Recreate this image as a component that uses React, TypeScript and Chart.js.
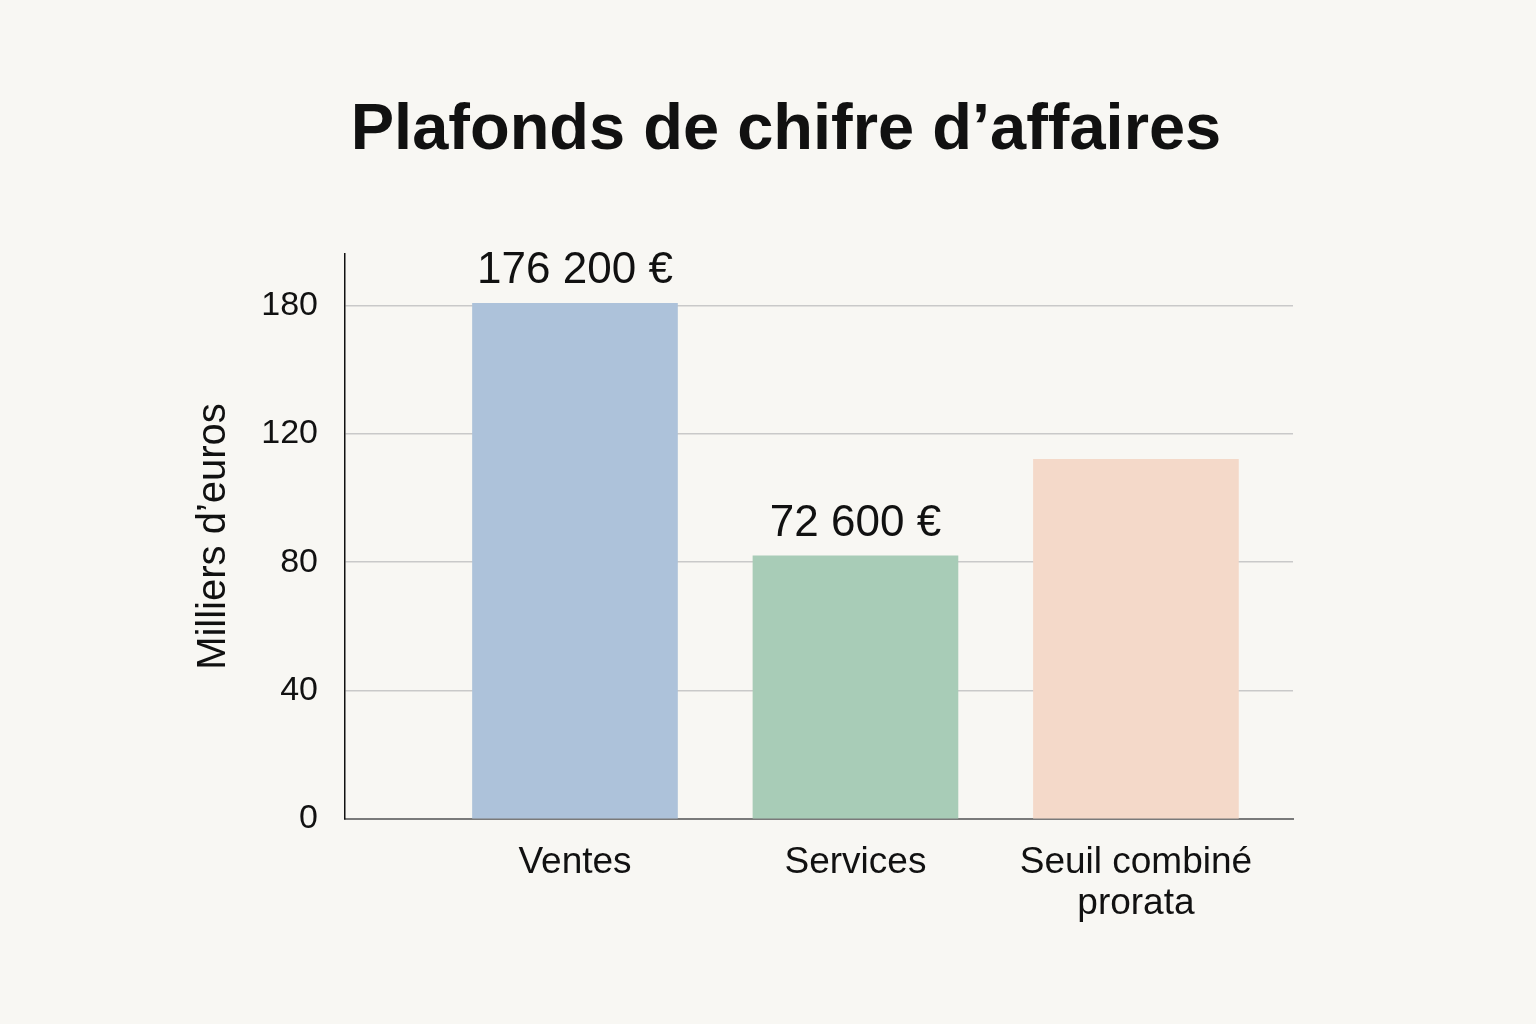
import React, { useEffect, useRef } from "react";
import { Chart, registerables, LinearScale } from "chart.js";

Chart.register(...registerables);

// ---- Data ----
const titleText = "Plafonds de chifre d’affaires";
const yAxisTitle = "Milliers d’euros";
const categories: (string | string[])[] = ["Ventes", "Services", ["Seuil combiné", "prorata"]];
const barValues = [181, 82, 112]; // heights read against the labelled y axis
const valueLabels = ["176 200 €", "72 600 €", ""];
const yTickValues = [0, 40, 80, 120, 180];
const yTickLabels = ["0", "40", "80", "120", "180"];
const yMax = 204;

const barColors = ["#adc2da", "#a8ccb7", "#f4d9c9"];
const FONT = "'Liberation Sans', Arial, Helvetica, sans-serif";

// A linear scale whose labelled ticks are evenly spaced (piecewise linear between ticks)
class SegmentedScale extends LinearScale {
  static id = "segmented";
  static defaults = LinearScale.defaults;

  segPos(value: number): number {
    const b = yTickValues;
    if (value <= b[0]) return (value - b[0]) / (b[1] - b[0]);
    for (let k = 0; k < b.length - 1; k++) {
      if (value <= b[k + 1]) return k + (value - b[k]) / (b[k + 1] - b[k]);
    }
    const n = b.length - 1;
    return n - 1 + (value - b[n - 1]) / (b[n] - b[n - 1]);
  }
  getPixelForValue(value: number): number {
    if (value === null || value === undefined || isNaN(value)) return NaN;
    const total = this.segPos(yMax);
    return this.getPixelForDecimal(this.segPos(value) / total);
  }
  getValueForPixel(pixel: number): number {
    const total = this.segPos(yMax);
    const s = this.getDecimalForPixel(pixel) * total;
    const b = yTickValues;
    const n = b.length - 1;
    const k = Math.max(0, Math.min(n - 1, Math.floor(s)));
    return b[k] + (s - k) * (b[k + 1] - b[k]);
  }
}
Chart.register(SegmentedScale as any);

const valueLabelPlugin = {
  id: "valueLabels",
  afterDatasetsDraw(chart: any) {
    const meta = chart.getDatasetMeta(0);
    const ctx = chart.ctx;
    ctx.save();
    ctx.font = `44px ${FONT}`;
    ctx.fillStyle = "#111111";
    ctx.textAlign = "center";
    ctx.textBaseline = "alphabetic";
    meta.data.forEach((el: any, i: number) => {
      const t = valueLabels[i];
      if (!t) return;
      ctx.fillText(t, el.x, el.y - 20);
    });
    ctx.restore();
  },
};

export default function App() {
  const canvasRef = useRef<HTMLCanvasElement | null>(null);

  useEffect(() => {
    document.body.style.margin = "0";
    const canvas = canvasRef.current;
    if (!canvas) return;
    const chart = new Chart(canvas, {
      type: "bar",
      data: {
        datasets: [
          {
            data: barValues.map((v, i) => ({ x: i, y: v })) as any,
            backgroundColor: barColors,
            borderWidth: 0,
            barThickness: 205,
            yAxisID: "y",
            xAxisID: "x",
          },
        ],
      },
      options: {
        responsive: false,
        animation: false,
        layout: { padding: { left: 36, right: 0, top: 0, bottom: 0 } },
        plugins: {
          legend: { display: false },
          tooltip: { enabled: false },
          title: {
            display: true,
            text: titleText,
            color: "#111111",
            font: { family: FONT, size: 65, weight: "bold" },
            padding: { top: 92, bottom: 84 },
          },
        },
        scales: {
          x: {
            type: "linear",
            min: -0.82,
            max: 2.56,
            offset: false,
            grid: { display: false, drawTicks: false },
            border: { display: true, color: "#7a7a7a", width: 2 },
            afterBuildTicks: (scale: any) => {
              scale.ticks = categories.map((_, i) => ({ value: i }));
            },
            afterFit: (scale: any) => {
              scale.height = 205;
            },
            ticks: {
              autoSkip: false,
              maxRotation: 0,
              minRotation: 0,
              padding: 23,
              color: "#111111",
              font: { family: FONT, size: 37, lineHeight: 1.12 },
              callback: (v: any) => categories[Math.round(Number(v))] as any,
            },
          },
          y: {
            type: "segmented" as any,
            position: "left",
            min: 0,
            max: yMax,
            grid: { color: "#c9c9c9", lineWidth: 1.5, drawTicks: false },
            border: { display: true, color: "#111111", width: 1.5 },
            afterBuildTicks: (scale: any) => {
              scale.ticks = yTickValues.map((v) => ({ value: v }));
            },
            afterFit: (scale: any) => {
              scale.width = 345 - 36;
            },
            ticks: {
              padding: 27,
              color: "#111111",
              font: { family: FONT, size: 34 },
              callback: (v: any) => {
                const idx = yTickValues.indexOf(Number(v));
                return idx >= 0 ? yTickLabels[idx] : "";
              },
            },
            title: {
              display: true,
              text: yAxisTitle,
              color: "#111111",
              font: { family: FONT, size: 40 },
              padding: { top: 154, bottom: 0 },
            },
          } as any,
          yRightSpace: {
            type: "linear",
            position: "right",
            display: true,
            grid: { display: false, drawTicks: false },
            border: { display: false },
            ticks: { display: false },
            afterFit: (scale: any) => {
              scale.width = 243;
            },
          },
        },
      },
      plugins: [valueLabelPlugin],
    });
    return () => chart.destroy();
  }, []);

  return (
    <div
      style={{
        position: "fixed",
        left: 0,
        top: 0,
        width: 1536,
        height: 1024,
        background: "#f8f7f3",
      }}
    >
      <canvas ref={canvasRef} width={1536} height={1024} style={{ width: 1536, height: 1024, display: "block" }} />
    </div>
  );
}
